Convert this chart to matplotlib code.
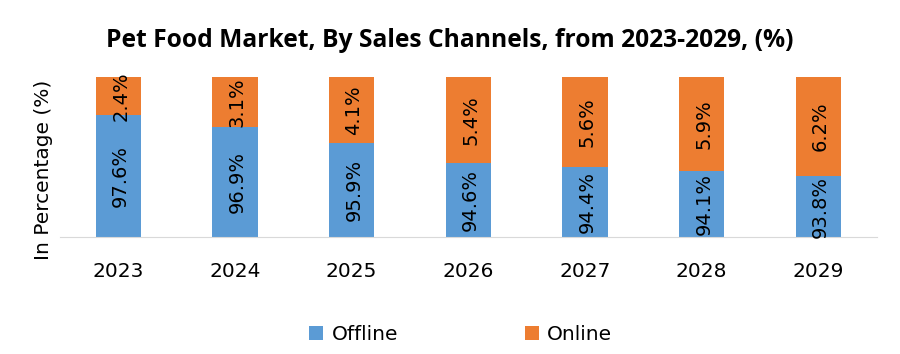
import matplotlib.pyplot as plt
import numpy as np

years = ['2023', '2024', '2025', '2026', '2027', '2028', '2029']
offline = [97.6, 96.9, 95.9, 94.6, 94.4, 94.1, 93.8]
online = [2.4, 3.1, 4.1, 5.4, 5.6, 5.9, 6.2]

fig = plt.figure(figsize=(9, 3.54), dpi=100)
ax = fig.add_axes([0.0667, 0.3305, 0.9073, 0.452])

x = np.arange(len(years))
w = 0.39
b1 = ax.bar(x, offline, w, color='#5B9BD5', label='Offline')
b2 = ax.bar(x, online, w, bottom=offline, color='#ED7D31', label='Online')

ax.set_ylim(90, 100)
ax.set_xlim(-0.5, len(years) - 0.5)

# labels in middle of each visible segment
for i in range(len(years)):
    ax.text(x[i] + 0.02, (90 + offline[i]) / 2, f'{offline[i]}%', rotation=90,
            ha='center', va='center', fontsize=14)
    ax.text(x[i] + 0.02, offline[i] + online[i] / 2, f'{online[i]}%', rotation=90,
            ha='center', va='center', fontsize=14)

ax.set_xticks(x)
ax.set_xticklabels(years, fontsize=14.5)
ax.tick_params(axis='x', length=0, pad=18)
ax.set_yticks([])
for s in ['top', 'right', 'left']:
    ax.spines[s].set_visible(False)
ax.spines['bottom'].set_color('#d9d9d9')
ax.set_ylabel('In Percentage (%)', fontsize=14.5)
ax.yaxis.set_label_coords(-0.008, 0.42)

fig.suptitle('Pet Food Market, By Sales Channels, from 2023-2029, (%)',
             fontsize=17.7, fontweight='bold', family='Open Sans', y=0.92)

fig.legend(handles=[b1, b2], loc='center', bbox_to_anchor=(0.512, 0.055), ncol=2,
           frameon=False, fontsize=14.5, handlelength=0.7, handleheight=0.7,
           columnspacing=6.3, handletextpad=0.4)

plt.savefig('out.png')
